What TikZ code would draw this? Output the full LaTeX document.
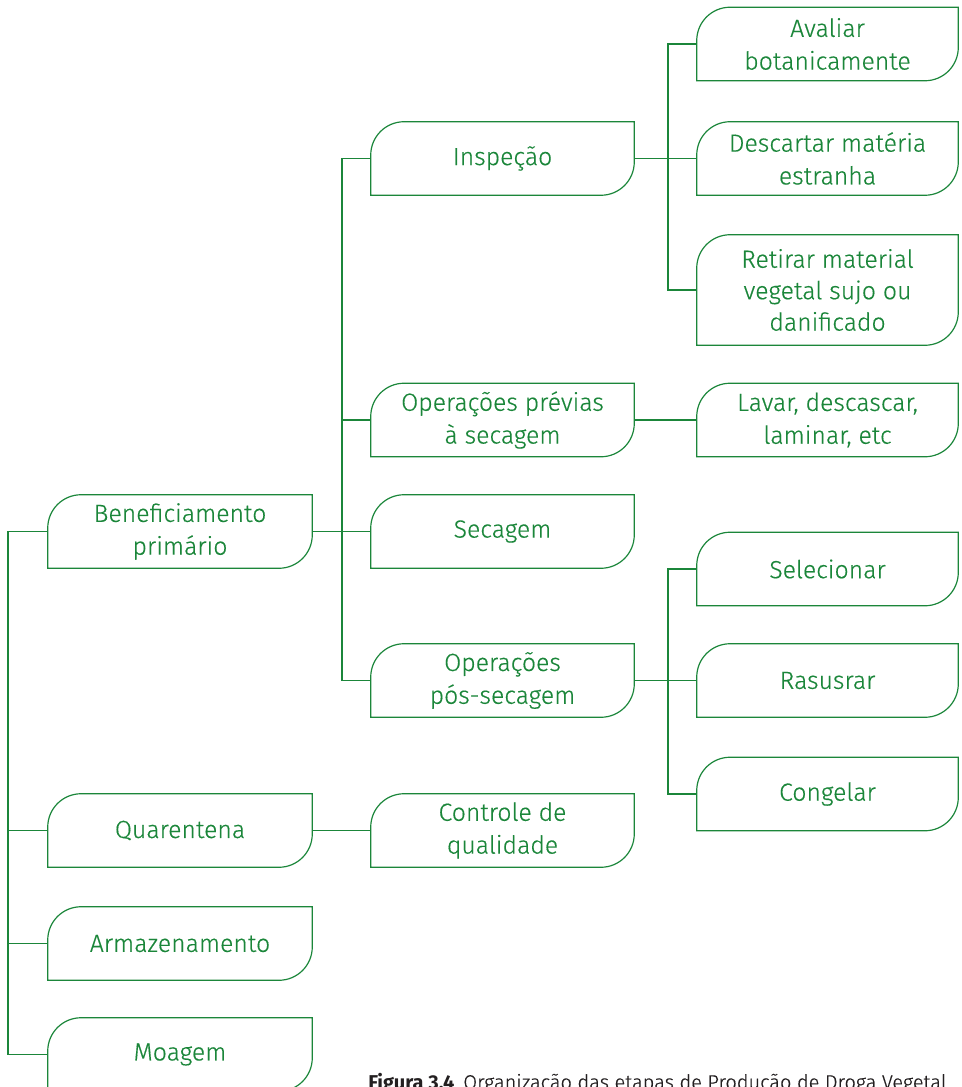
\documentclass[tikz,border=0pt]{standalone}
\usepackage{fontspec}
\setmainfont{Fira Sans}[UprightFont={* Light},UprightFeatures={FakeBold=0.4},BoldFont={* Bold}]
\definecolor{grn}{RGB}{27,134,58}
\definecolor{cap}{RGB}{35,31,32}
\tikzset{
  px/.style={x=0.75pt,y=-0.75pt},
  stage/.style={draw=none,inner sep=0pt,align=center,text=grn,font=\fontsize{18.6}{24.6}\selectfont},
  c1/.style={stage,minimum width=198pt},
  c2/.style={stage,minimum width=197.25pt},
  c3/.style={stage,minimum width=195.75pt},
  h73/.style={minimum height=54.75pt},
  link/.style={draw=grn,line width=0.9pt},
  outline/.style={draw=grn,line width=0.9pt}
}
\newcommand{\boxshape}[1]{%
  \draw[outline] (#1.south west) -- ([yshift=-25pt]#1.north west)
    arc[start angle=180,end angle=90,radius=25pt] -- (#1.north east)
    -- ([yshift=25pt]#1.south east)
    arc[start angle=0,end angle=-90,radius=25pt] -- cycle;}
\begin{document}
\begin{tikzpicture}[px]
\useasboundingbox (0,0) rectangle (962,1087);
% column 1
\node[c1,h73] (ben) at (180,531.5) {Beneficiamento\\primário};
\node[c1,h73] (qua) at (180,830.5) {Quarentena};
\node[c1,h73] (arm) at (180,943.5) {Armazenamento};
\node[c1,h73] (moa) at (180,1054.5) {Moagem};
% column 2
\node[c2,h73] (insp) at (502.5,158.5) {Inspeção};
\node[c2,h73] (pre) at (502.5,420) {Operações prévias\\à secagem};
\node[c2,h73] (sec) at (502.5,531.5) {Secagem};
\node[c2,h73] (pos) at (502.5,680.5) {Operações\\pós-secagem};
\node[c2,h73] (con) at (502.5,830.5) {Controle de\\qualidade};
% column 3
\node[c3,h73] (ava) at (827.5,44) {Avaliar\\botanicamente};
\node[c3,h73] (des) at (827.5,158.5) {Descartar matéria\\estranha};
\node[c3,minimum height=82.5pt,font=\fontsize{18.6}{23.6}\selectfont] (ret) at (827.5,290) {Retirar material\\vegetal sujo ou\\danificado};
\node[c3,h73] (lav) at (827.5,420) {Lavar, descascar,\\laminar, etc};
\node[c3,h73] (sel) at (827.5,569) {Selecionar};
\node[c3,h73] (ras) at (827.5,680.5) {Rasusrar};
\node[c3,h73] (cong) at (827.5,794) {Congelar};
\foreach \n in {ben,qua,arm,moa,insp,pre,sec,pos,con,ava,des,ret,lav,sel,ras,cong}{\boxshape{\n}}
% trunk coordinates
\coordinate (t1) at (8,0);
\coordinate (t2) at (342,0);
\coordinate (t3) at (668,0);
% connectors column 1
\draw[link] (ben.west) -- (ben.west -| t1) -- (moa.west -| t1) -- (moa.west);
\draw[link] (qua.west -| t1) -- (qua.west);
\draw[link] (arm.west -| t1) -- (arm.west);
% connectors column 2
\draw[link] (ben.east) -- (sec.west);
\draw[link] (insp.west) -- (insp.west -| t2) -- (pos.west -| t2) -- (pos.west);
\draw[link] (pre.west -| t2) -- (pre.west);
\draw[link] (qua.east) -- (con.west);
% connectors column 3
\draw[link] (insp.east) -- (des.west);
\draw[link] (ava.west) -- (ava.west -| t3) -- (ret.west -| t3) -- (ret.west);
\draw[link] (pre.east) -- (lav.west);
\draw[link] (pos.east) -- (ras.west);
\draw[link] (sel.west) -- (sel.west -| t3) -- (cong.west -| t3) -- (cong.west);
% caption
\node[anchor=base west,inner sep=0pt,text=cap,font=\fontsize{15}{18}\selectfont] (caption) at (368,1089) {\textbf{Figura 3.4}\, Organização das etapas de Produção de Droga Vegetal};
\end{tikzpicture}
\end{document}
